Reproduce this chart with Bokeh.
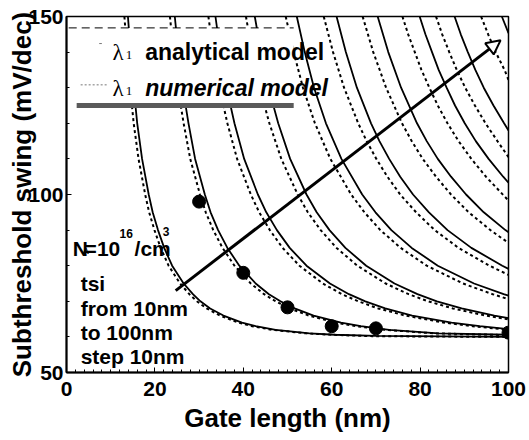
from bokeh.plotting import figure
from bokeh.models import Range1d, Arrow, NormalHead, Label, SingleIntervalTicker
from bokeh.embed import file_html
from bokeh.resources import INLINE

# ---- data: gate length (nm) vs subthreshold swing (mV/dec)
# analytical model (solid) and numerical model (dotted), tsi = 10 ... 100 nm
an_L_10 = [13.9, 14.5, 15.2, 16.0, 17.1, 18.6, 19.5, 20.7, 22.1, 23.9, 26.5, 28.6, 30.3, 32.5, 35.5, 39.7, 42.8, 47.3, 55.0, 60.7, 70.0, 100.0]
an_S_10 = [150, 140, 130, 120, 110, 100, 95, 90, 85, 80, 75, 72, 70, 68, 66, 64, 63, 62, 61, 60.6, 60.3, 60.0]
num_L_10 = [13.1, 13.7, 14.4, 15.2, 16.3, 17.8, 18.7, 19.9, 21.3, 23.1, 25.7, 27.8, 29.5, 31.7, 34.7, 38.9, 42.0, 46.5, 54.2, 59.9, 69.2, 100.0]
num_S_10 = [150, 140, 130, 120, 110, 100, 95, 90, 85, 80, 75, 72, 70, 68, 66, 64, 63, 62, 61, 60.6, 60.2, 60.0]

an_L_20 = [24.5, 25.3, 26.3, 27.6, 29.1, 31.3, 32.6, 34.3, 36.4, 39.1, 42.8, 45.8, 48.4, 51.6, 55.9, 62.1, 66.6, 73.0, 84.2, 100.0]
an_S_20 = [150, 140, 130, 120, 110, 100, 95, 90, 85, 80, 75, 72, 70, 68, 66, 64, 63, 62, 61, 60.6]
num_L_20 = [23.4, 24.2, 25.2, 26.5, 28.0, 30.2, 31.5, 33.2, 35.3, 38.0, 41.7, 44.7, 47.3, 50.5, 54.8, 61.0, 65.5, 71.9, 83.1, 100.0]
num_S_20 = [150, 140, 130, 120, 110, 100, 95, 90, 85, 80, 75, 72, 70, 68, 66, 64, 63, 62, 61, 60.5]

an_L_30 = [33.7, 34.8, 36.2, 38.0, 40.2, 43.3, 45.2, 47.6, 50.5, 54.3, 59.6, 63.9, 67.6, 72.1, 78.2, 87.1, 93.5, 100.0]
an_S_30 = [150, 140, 130, 120, 110, 100, 95, 90, 85, 80, 75, 72, 70, 68, 66, 64, 63, 62.2]
num_L_30 = [32.1, 33.2, 34.6, 36.4, 38.6, 41.7, 43.6, 46.0, 48.9, 52.7, 58.0, 62.3, 66.0, 70.5, 76.6, 85.5, 91.9, 100.0]
num_S_30 = [150, 140, 130, 120, 110, 100, 95, 90, 85, 80, 75, 72, 70, 68, 66, 64, 63, 62.0]

an_L_40 = [42.6, 44.0, 45.7, 47.9, 50.6, 54.3, 56.6, 59.5, 63.1, 67.8, 74.2, 79.4, 83.8, 89.4, 96.8, 100.0]
an_S_40 = [150, 140, 130, 120, 110, 100, 95, 90, 85, 80, 75, 72, 70, 68, 66, 65.3]
num_L_40 = [40.6, 42.0, 43.7, 45.9, 48.6, 52.3, 54.6, 57.5, 61.1, 65.8, 72.2, 77.4, 81.8, 87.4, 94.8, 100.0]
num_S_40 = [150, 140, 130, 120, 110, 100, 95, 90, 85, 80, 75, 72, 70, 68, 66, 64.9]

an_L_50 = [52.1, 53.9, 56.0, 58.7, 62.2, 66.9, 69.9, 73.5, 78.1, 84.0, 92.2, 98.9, 100.0]
an_S_50 = [150, 140, 130, 120, 110, 100, 95, 90, 85, 80, 75, 72, 71.6]
num_L_50 = [49.6, 51.4, 53.5, 56.2, 59.7, 64.4, 67.4, 71.0, 75.6, 81.5, 89.7, 96.4, 100.0]
num_S_50 = [150, 140, 130, 120, 110, 100, 95, 90, 85, 80, 75, 72, 70.6]

an_L_60 = [61.1, 63.2, 65.7, 68.9, 70.8, 73.0, 75.5, 78.4, 82.0, 86.2, 91.6, 98.6, 100.0]
an_S_60 = [150, 140, 130, 120, 115, 110, 105, 100, 95, 90, 85, 80, 79.1]
num_L_60 = [58.2, 60.3, 62.8, 66.0, 67.9, 70.1, 72.6, 75.5, 79.1, 83.3, 88.7, 95.7, 100.0]
num_S_60 = [150, 140, 130, 120, 115, 110, 105, 100, 95, 90, 85, 80, 77.4]

an_L_70 = [70.4, 72.8, 75.7, 79.3, 81.5, 84.0, 87.0, 90.4, 94.4, 99.3, 100.0]
an_S_70 = [150, 140, 130, 120, 115, 110, 105, 100, 95, 90, 89.4]
num_L_70 = [67.0, 69.4, 72.3, 75.9, 78.1, 80.6, 83.6, 87.0, 91.0, 95.9, 100.0]
num_S_70 = [150, 140, 130, 120, 115, 110, 105, 100, 95, 90, 86.4]

an_L_80 = [79.9, 81.2, 82.7, 84.2, 86.0, 87.9, 90.1, 92.6, 95.5, 98.8, 100.0]
an_S_80 = [150, 145, 140, 135, 130, 125, 120, 115, 110, 105, 103.3]
num_L_80 = [76.0, 77.3, 78.8, 80.3, 82.1, 84.0, 86.2, 88.7, 91.6, 94.9, 100.0]
num_S_80 = [150, 145, 140, 135, 130, 125, 120, 115, 110, 105, 98.3]

an_L_90 = [87.8, 89.2, 90.8, 92.5, 94.4, 96.6, 99.0, 100.0]
an_S_90 = [150, 145, 140, 135, 130, 125, 120, 118.0]
num_L_90 = [83.6, 85.0, 86.6, 88.3, 90.2, 92.4, 94.8, 97.5, 100.0]
num_S_90 = [150, 145, 140, 135, 130, 125, 120, 115, 110.5]

an_L_100 = [98.5, 100.0]
an_S_100 = [150, 145.3]
num_L_100 = [93.8, 95.4, 97.1, 99.1, 100.0]
num_S_100 = [150, 145, 140, 135, 132.2]

# simulated points (filled circles)
dot_L = [30, 40, 50, 60, 70, 100]
dot_S = [98, 78, 68.3, 63, 62.4, 61.2]

analytical = [(an_L_10, an_S_10), (an_L_20, an_S_20), (an_L_30, an_S_30), (an_L_40, an_S_40),
              (an_L_50, an_S_50), (an_L_60, an_S_60), (an_L_70, an_S_70), (an_L_80, an_S_80),
              (an_L_90, an_S_90), (an_L_100, an_S_100)]
numerical = [(num_L_10, num_S_10), (num_L_20, num_S_20), (num_L_30, num_S_30), (num_L_40, num_S_40),
             (num_L_50, num_S_50), (num_L_60, num_S_60), (num_L_70, num_S_70), (num_L_80, num_S_80),
             (num_L_90, num_S_90), (num_L_100, num_S_100)]

FONT = "Liberation Sans"

p = figure(width=529, height=440, x_range=Range1d(0, 100), y_range=Range1d(50, 150),
           output_backend="svg", toolbar_location=None,
           min_border_left=66, min_border_right=21, min_border_top=16, min_border_bottom=68)
p.background_fill_color = "white"
p.border_fill_color = "white"
p.outline_line_color = "black"
p.outline_line_width = 1.5
p.xgrid.visible = False
p.ygrid.visible = False

p.xaxis.ticker = SingleIntervalTicker(interval=20, num_minor_ticks=10)
p.yaxis.ticker = SingleIntervalTicker(interval=50, num_minor_ticks=5)
for ax in (p.xaxis, p.yaxis):
    ax.axis_line_width = 2
    ax.axis_line_color = "black"
    ax.major_tick_in = 5
    ax.major_tick_out = 0
    ax.minor_tick_in = 3
    ax.minor_tick_out = 0
    ax.major_tick_line_color = "black"
    ax.minor_tick_line_color = "black"
    ax.major_label_text_font = FONT
    ax.major_label_text_font_style = "bold"
    ax.major_label_text_font_size = "21px"
    ax.major_label_text_color = "black"
    ax.axis_label_text_font = FONT
    ax.axis_label_text_font_style = "bold"
    ax.axis_label_text_font_size = "26px"
    ax.axis_label_text_color = "black"
p.xaxis.major_label_standoff = 9
p.yaxis.major_label_standoff = 3
p.xaxis.axis_label = "Gate length (nm)"
p.yaxis.axis_label = "Subthreshold swing (mV/dec)"
p.xaxis.axis_label_standoff = 4
p.yaxis.axis_label_standoff = -12

for (lx, ly) in numerical:
    p.line(lx, ly, line_color="black", line_width=2, line_dash="3 3")
for (lx, ly) in analytical:
    p.line(lx, ly, line_color="black", line_width=1.8)

p.scatter(dot_L, dot_S, size=13, marker="circle", fill_color="black", line_color="black")

# legend box
p.quad(left=[0.5], right=[51.4], bottom=[124.8], top=[146.8], fill_color="white", line_color=None)
p.line([0.5, 51.4], [146.8, 146.8], line_color="black", line_width=1, line_dash="8 5")
p.line([2.3, 51.4], [125.0, 125.0], line_color="#5a5a5a", line_width=5)
p.line([3.2, 9.3], [130.8, 130.8], line_color="#777777", line_width=1, line_dash="2 2")
p.line([7.4, 8.0], [142.4, 142.4], line_color="#777777", line_width=1)

def lab(x, y, t, size="21px", style="bold", font=FONT, **kw):
    p.add_layout(Label(x=x, y=y, text=t, text_font=font, text_font_style=style,
                       text_font_size=size, text_color="black", text_baseline="alphabetic", **kw))

lab(10.4, 139.9, "λ", size="23px", style="normal", font="Liberation Serif")
lab(13.4, 139.2, "1", size="13px", style="normal", font="Liberation Serif")
lab(17.8, 139.9, "analytical model", size="23px")
lab(10.4, 129.8, "λ", size="23px", style="normal", font="Liberation Serif")
lab(13.4, 129.1, "1", size="13px", style="normal", font="Liberation Serif")
lab(17.8, 129.8, "numerical model", size="23px", style="bold italic")

# doping annotation
lab(1.4, 84.8, "N")
lab(3.6, 84.0, "A", size="9px")
lab(4.1, 84.8, "=10")
lab(12.0, 89.0, "16", size="12px")
lab(15.4, 84.8, "/cm")
lab(21.8, 89.5, "3", size="12px")

lab(3.2, 75.0, "tsi")
lab(3.2, 68.1, "from 10nm")
lab(3.2, 61.2, "to 100nm")
lab(3.2, 54.5, "step 10nm")

p.add_layout(Arrow(end=NormalHead(size=14, fill_color="white", line_color="black", line_width=2),
                   x_start=24.7, y_start=73, x_end=98.2, y_end=143.3,
                   line_width=3, line_color="black"))

open("out.html", "w").write(file_html(p, INLINE))
